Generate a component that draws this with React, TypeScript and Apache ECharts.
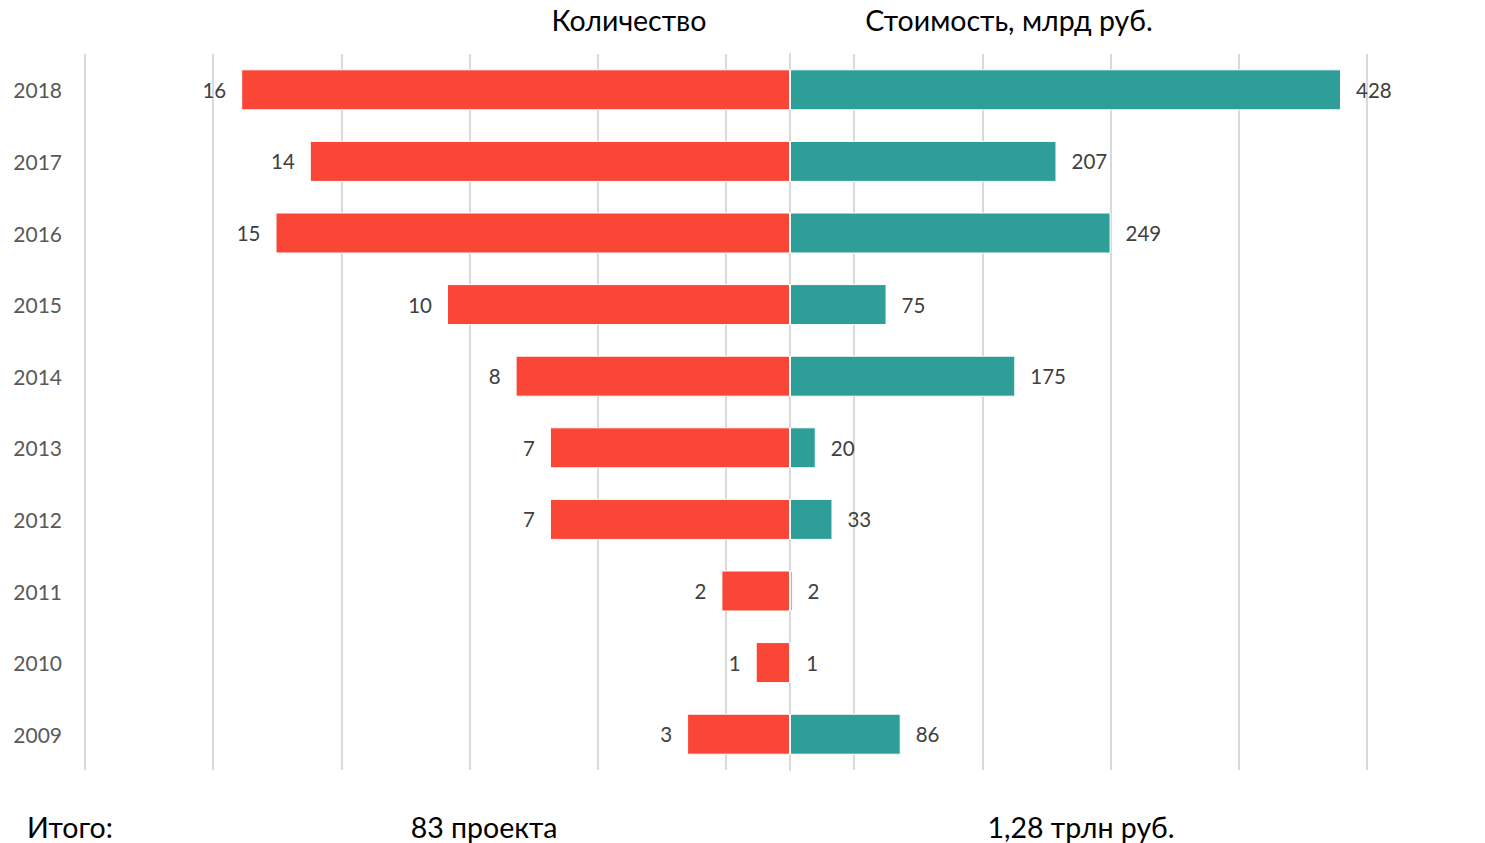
import React, { useEffect, useRef } from "react";
import * as echarts from "echarts";

const years = ["2018", "2017", "2016", "2015", "2014", "2013", "2012", "2011", "2010", "2009"];
const counts = [16, 14, 15, 10, 8, 7, 7, 2, 1, 3];
const values = [428, 207, 249, 75, 175, 20, 33, 2, 1, 86];
const leftTitle = "Количество";
const rightTitle = "Стоимость, млрд руб.";
const totalLabel = "Итого:";
const totalCount = "83 проекта";
const totalValue = "1,28 трлн руб.";

const FONT = "Lato";
const RED = "#FA4637";
const TEAL = "#2E9F98";
const GRIDC = "#D9D9D9";

export default function App() {
  const ref = useRef<HTMLDivElement>(null);
  useEffect(() => {
    document.body.style.margin = "0";
    const chart = echarts.init(ref.current!, null, { renderer: "svg" });
    const top = 54;
    const height = 716;
    const gridStep = 128.2;
    chart.setOption({
      animation: false,
      textStyle: { fontFamily: FONT },
      grid: [
        { left: 85, top, width: 1400, height },
        { left: 85, top, width: 705, height },
        { left: 790, top, width: 695, height },
      ],
      xAxis: [
        {
          gridIndex: 0, type: "value", min: 0, max: 1400 / gridStep, interval: 1,
          axisLabel: { show: false }, axisLine: { show: false }, axisTick: { show: false },
          splitLine: { show: true, showMaxLine: false, lineStyle: { color: GRIDC, width: 2 } },
        },
        {
          gridIndex: 1, type: "value", min: 0, max: 705 / 34.3, inverse: true,
          axisLabel: { show: false }, axisLine: { show: false }, axisTick: { show: false },
          splitLine: { show: false },
        },
        {
          gridIndex: 2, type: "value", min: 0, max: 695 / 1.2874,
          axisLabel: { show: false }, axisLine: { show: false }, axisTick: { show: false },
          splitLine: { show: false },
        },
      ],
      yAxis: [
        {
          gridIndex: 0, type: "category", data: years, inverse: true, show: false,
        },
        {
          gridIndex: 1, type: "category", data: years, inverse: true,
          axisLine: { show: false }, axisTick: { show: false },
          axisLabel: { color: "#595959", fontSize: 21, fontFamily: FONT, margin: 23 },
        },
        {
          gridIndex: 2, type: "category", data: years, inverse: true,
          axisLabel: { show: false }, axisTick: { show: false },
          axisLine: { show: true, lineStyle: { color: GRIDC, width: 2 } },
        },
      ],
      series: [
        {
          type: "bar", xAxisIndex: 1, yAxisIndex: 1, data: counts, barWidth: 41,
          itemStyle: { color: RED, borderColor: "#fff", borderWidth: 1 },
          label: { show: true, position: "left", distance: 15, color: "#404040", fontSize: 20.5, fontFamily: FONT },
        },
        {
          type: "bar", xAxisIndex: 2, yAxisIndex: 2, data: values, barWidth: 41,
          itemStyle: { color: TEAL, borderColor: "#fff", borderWidth: 1 },
          label: { show: true, position: "right", distance: 15, color: "#404040", fontSize: 20.5, fontFamily: FONT },
        },
      ],
      graphic: [
        { type: "text", x: 629, y: 20, style: { text: leftTitle, fill: "#000", font: `28.5px ${FONT}`, textAlign: "center", textVerticalAlign: "middle" } },
        { type: "text", x: 1009, y: 20, style: { text: rightTitle, fill: "#000", font: `28.5px ${FONT}`, textAlign: "center", textVerticalAlign: "middle" } },
        { type: "text", x: 27, y: 827, style: { text: totalLabel, fill: "#000", font: `28.5px ${FONT}`, textAlign: "left", textVerticalAlign: "middle" } },
        { type: "text", x: 484, y: 827, style: { text: totalCount, fill: "#000", font: `28.5px ${FONT}`, textAlign: "center", textVerticalAlign: "middle" } },
        { type: "text", x: 1081, y: 827, style: { text: totalValue, fill: "#000", font: `28.5px ${FONT}`, textAlign: "center", textVerticalAlign: "middle" } },
      ],
    });
    return () => chart.dispose();
  }, []);
  return <div ref={ref} style={{ width: 1485, height: 843 }} />;
}
